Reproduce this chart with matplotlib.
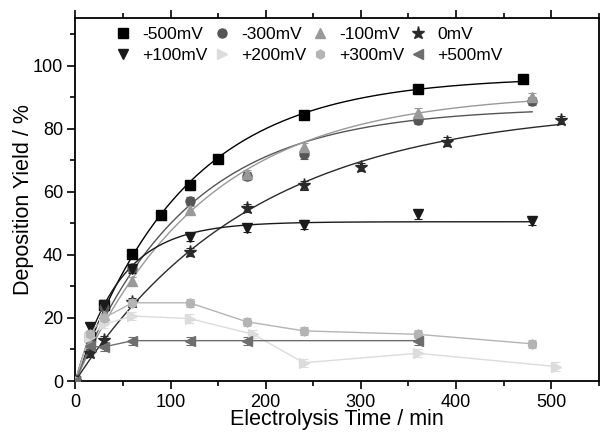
import numpy as np
import matplotlib
matplotlib.use("Agg")
import matplotlib.pyplot as plt
from matplotlib.ticker import MultipleLocator

plt.rcParams["font.family"] = ["Liberation Sans", "DejaVu Sans"]

# time points (min) and deposition yield (%) for each potential
t_m500 = [0, 15, 30, 60, 90, 120, 150, 240, 360, 470]
y_m500 = [0, 14, 24, 40.2, 52.6, 62, 70.4, 84.2, 92.5, 95.8]

t_m300 = [0, 15, 30, 60, 120, 180, 240, 360, 480]
y_m300 = [0, 13, 23.5, 35.7, 57.1, 65, 71.8, 82.8, 88.8]

t_m100 = [0, 15, 30, 60, 120, 180, 240, 360, 480]
y_m100 = [0, 12, 21, 31.7, 54.2, 65.5, 74.3, 85.1, 89.9]

t_0 = [0, 15, 30, 60, 120, 180, 240, 300, 390, 510]
y_0 = [0, 9, 13, 25, 41, 54.8, 62, 67.8, 75.9, 82.8]

t_p100 = [0, 15, 30, 60, 120, 180, 240, 360, 480]
y_p100 = [0, 17, 24, 35.5, 45.6, 48.6, 49.6, 52.8, 50.6]

t_p200 = [0, 15, 30, 60, 120, 187, 240, 360, 505]
y_p200 = [0, 14, 18, 20.6, 19.8, 14.8, 5.8, 8.8, 4.6]

t_p300 = [0, 15, 30, 60, 120, 180, 240, 360, 480]
y_p300 = [0, 15, 20, 24.8, 24.8, 18.8, 15.9, 14.8, 11.8]

t_p500 = [0, 15, 30, 60, 120, 180, 360]
y_p500 = [0, 11, 10.8, 12.8, 12.8, 12.8, 12.8]

labels = ["-500mV", "-300mV", "-100mV", "0mV",
          "+100mV", "+200mV", "+300mV", "+500mV"]
colors = ["#000000", "#555555", "#999999", "#2a2a2a",
          "#1a1a1a", "#dcdcdc", "#b4b4b4", "#6e6e6e"]
markers = ["s", "o", "^", "*", "v", ">", "h", "<"]
fitted = [True, True, True, True, True, False, False, False]

series = [(t_m500, y_m500), (t_m300, y_m300), (t_m100, y_m100), (t_0, y_0),
          (t_p100, y_p100), (t_p200, y_p200), (t_p300, y_p300), (t_p500, y_p500)]


def saturation_fit(t, y):
    # y = A * (1 - exp(-t / tau)), grid search on tau, A by least squares
    t = np.asarray(t, float)
    y = np.asarray(y, float)
    best = None
    for tau in np.linspace(5, 500, 4000):
        f = 1 - np.exp(-t / tau)
        a = np.sum(y * f) / np.sum(f * f)
        r = np.sum((y - a * f) ** 2)
        if best is None or r < best[0]:
            best = (r, a, tau)
    return best[1], best[2]


fig = plt.figure(figsize=(6.03, 4.33), dpi=100)
ax = fig.add_axes([0.125, 0.12, 0.868, 0.838])

handles = []
for (t, y), lab, c, m, fit in zip(series, labels, colors, markers, fitted):
    if fit:
        a, tau = saturation_fit(t, y)
        tt = np.linspace(0, max(t), 300)
        ax.plot(tt, a * (1 - np.exp(-tt / tau)), color=c, lw=1, zorder=2)
    else:
        ax.plot(t, y, color=c, lw=1, zorder=2)
    ms = 9.5 if m == "*" else 6.5
    ax.errorbar(t, y, yerr=1.3, fmt="none", ecolor=c, elinewidth=0.8,
                capsize=3, capthick=0.8, zorder=3)
    h, = ax.plot(t, y, ls="none", marker=m, ms=ms, color=c, mec=c,
                 label=lab, zorder=4)
    handles.append(h)

# legend: two rows of four
order = [0, 4, 1, 5, 2, 6, 3, 7]
ax.legend([handles[i] for i in order], [labels[i] for i in order],
          ncol=4, frameon=False, loc="upper left",
          bbox_to_anchor=(0.075, 0.975), borderaxespad=0, borderpad=0,
          fontsize=12.5, handlelength=1.0, handletextpad=0.6,
          columnspacing=0.3, labelspacing=0.32)

ax.set_xlim(0, 550)
ax.set_ylim(0, 115)
ax.xaxis.set_major_locator(MultipleLocator(100))
ax.xaxis.set_minor_locator(MultipleLocator(50))
ax.yaxis.set_major_locator(MultipleLocator(20))
ax.yaxis.set_minor_locator(MultipleLocator(10))
ax.tick_params(which="both", direction="out", top=True, right=False,
               labelsize=13, width=1.2)
ax.tick_params(which="major", length=6, pad=3)
ax.tick_params(which="minor", length=3.5)
for s in ax.spines.values():
    s.set_linewidth(1.3)

ax.set_xlabel("Electrolysis Time / min", fontsize=15.5, labelpad=-1)
ax.set_ylabel("Deposition Yield / %", fontsize=15.5, labelpad=-1)

fig.savefig("out.png", dpi=100)
